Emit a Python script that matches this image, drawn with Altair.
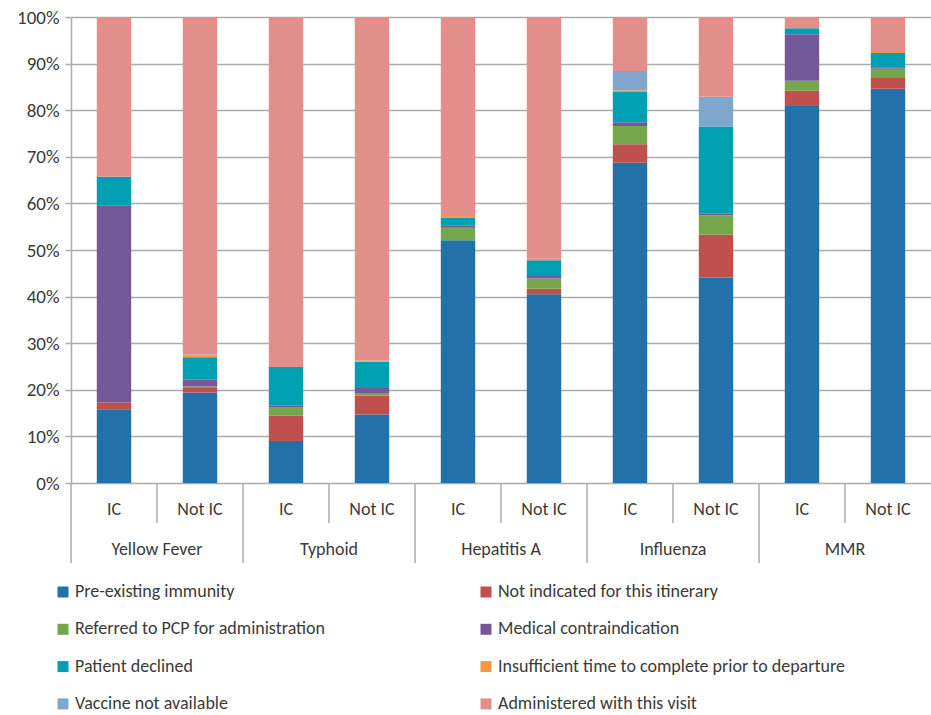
import altair as alt
import pandas as pd

FONT = "Carlito, Liberation Sans Narrow, Open Sans, sans-serif"
TXT = "#3a3a3a"
GRID = "#ababab"

vaccines = ["Yellow Fever", "Typhoid", "Hepatitis A", "Influenza", "MMR"]
groups = ["IC", "Not IC"]
causes = [
    "Pre-existing immunity",
    "Not indicated for this itinerary",
    "Referred to PCP for administration",
    "Medical contraindication",
    "Patient declined",
    "Insufficient time to complete prior to departure",
    "Vaccine not available",
    "Administered with this visit",
]
colors = ["#2371A9", "#C0504D", "#76A64C", "#74599A", "#00A0B2", "#F79646", "#80A6CE", "#E28F8C"]

# values (%) per bar: YF IC, YF Not IC, Ty IC, Ty Not IC, HepA IC, HepA Not IC, Flu IC, Flu Not IC, MMR IC, MMR Not IC
pre_existing = [15.8, 19.4, 9.0, 14.7, 52.1, 40.5, 68.7, 44.1, 80.9, 84.6]
not_indicated = [1.5, 1.0, 5.5, 4.1, 0.0, 1.2, 4.0, 9.2, 3.3, 2.3]
referred = [0.0, 0.3, 1.8, 0.5, 2.7, 2.2, 3.9, 4.1, 2.1, 2.0]
medical = [42.3, 1.5, 0.3, 1.1, 0.5, 0.5, 0.8, 0.4, 10.0, 0.3]
declined = [6.1, 4.8, 8.3, 5.6, 1.7, 3.4, 6.5, 18.7, 1.3, 3.1]
insufficient = [0.0, 0.3, 0.0, 0.3, 0.3, 0.3, 0.4, 0.0, 0.0, 0.2]
not_available = [0.0, 0.3, 0.0, 0.0, 0.0, 0.0, 4.1, 6.4, 0.0, 0.0]
administered = [34.3, 72.4, 75.1, 73.7, 42.7, 51.9, 11.6, 17.1, 2.4, 7.5]

series = [pre_existing, not_indicated, referred, medical, declined,
          insufficient, not_available, administered]

keys = [f"{v}|{g}" for v in vaccines for g in groups]

rows = []
for ci, (c, vals) in enumerate(zip(causes, series)):
    for k, val in zip(keys, vals):
        rows.append(dict(key=k, cause=c, value=val, order=ci))
df = pd.DataFrame(rows)

# legend is filled column by column, so list the causes in that order
legend_order = [0, 2, 4, 6, 1, 3, 5, 7]
legend_domain = [causes[i] for i in legend_order]
legend_range = [colors[i] for i in legend_order]

labels_df = pd.DataFrame({"key": keys, "group": [k.split("|")[1] for k in keys]})
group_df = pd.DataFrame({"key": [f"{v}|Not IC" for v in vaccines], "vaccine": vaccines})
start_df = pd.DataFrame({"key": [f"{v}|IC" for v in vaccines]})

xscale = alt.Scale(domain=keys, paddingInner=0, paddingOuter=0)


def xenc(band=None):
    if band is None:
        return alt.X("key:N", sort=keys, scale=xscale, axis=None)
    return alt.X("key:N", sort=keys, scale=xscale, axis=None, bandPosition=band)


bars = alt.Chart(df).mark_bar(width=alt.RelativeBandSize(0.4)).encode(
    x=xenc(),
    y=alt.Y(
        "value:Q",
        stack="zero",
        scale=alt.Scale(domain=[0, 100], nice=False),
        axis=alt.Axis(
            values=list(range(0, 101, 10)),
            labelExpr="datum.value + '%'",
            title=None,
            grid=True,
            gridColor=GRID,
            gridWidth=1.5,
            domainColor=GRID,
            domainWidth=1.5,
            tickColor=GRID,
            tickWidth=1.5,
            tickSize=6,
            labelFont=FONT,
            labelFontSize=19,
            labelColor=TXT,
            labelPadding=6,
        ),
    ),
    color=alt.Color(
        "cause:N",
        scale=alt.Scale(domain=legend_domain, range=legend_range),
        legend=alt.Legend(
            title=None,
            orient="none",
            legendX=-17,
            legendY=566,
            columns=2,
            symbolType="square",
            symbolSize=121,
            symbolStrokeWidth=0,
            labelFont=FONT,
            labelFontSize=18,
            labelColor=TXT,
            labelOffset=3,
            labelLimit=600,
            rowPadding=19.3,
            columnPadding=151,
            gridAlign="each",
            padding=0,
        ),
    ),
    order=alt.Order("order:Q", sort="ascending"),
)

sub_labels = alt.Chart(labels_df).mark_text(
    font=FONT, fontSize=18, color=TXT, baseline="middle"
).encode(x=xenc(), y=alt.value(493), text="group:N")

group_labels = alt.Chart(group_df).mark_text(
    font=FONT, fontSize=18, color=TXT, baseline="middle"
).encode(x=xenc(0), y=alt.value(533), text="vaccine:N")

short_ticks = alt.Chart(group_df).mark_rule(color=GRID, strokeWidth=1.5).encode(
    x=xenc(0), y=alt.value(466), y2=alt.value(506)
)

long_ticks = alt.Chart(start_df).mark_rule(color=GRID, strokeWidth=1.5).encode(
    x=xenc(0), y=alt.value(466), y2=alt.value(546)
)

chart = (
    alt.layer(bars, short_ticks, long_ticks, sub_labels, group_labels)
    .properties(
        width=860,
        height=466,
        autosize=alt.AutoSizeParams(type="none"),
        padding={"left": 71, "top": 17, "right": 0, "bottom": 232},
        background="white",
    )
    .configure_view(stroke=None)
)

chart.save("out.html", embed_options={"renderer": "svg", "actions": False})
